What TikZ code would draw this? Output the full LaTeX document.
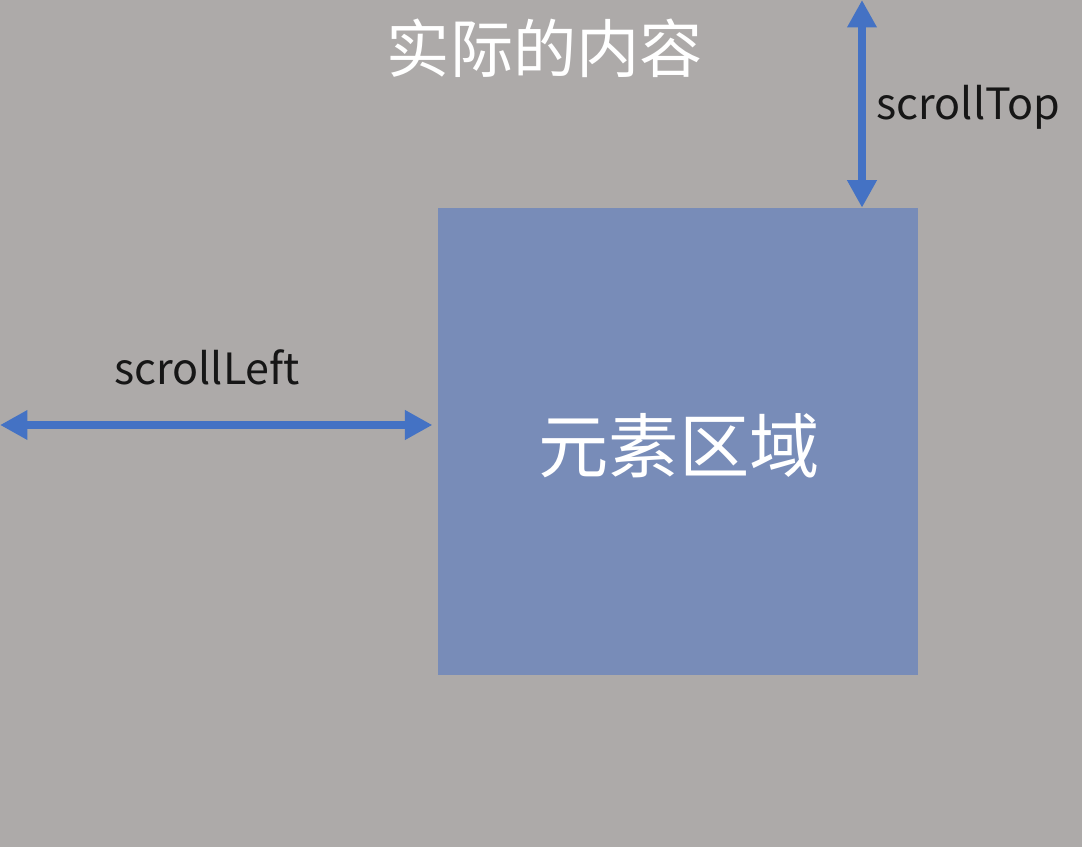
\documentclass[tikz,border=0pt]{standalone}
\usepackage{fontspec}
\setmainfont{Noto Sans CJK SC}
\usetikzlibrary{arrows.meta}

\definecolor{bggray}{HTML}{ADAAA9}
\definecolor{boxblue}{HTML}{788CB8}
\definecolor{arrowblue}{HTML}{4472C4}
\definecolor{labelblack}{HTML}{161616}

\begin{document}
\begin{tikzpicture}[x=0.02cm, y=-0.02cm,
    >={Triangle[length=0.55cm, width=0.56cm]},
    scrollarrow/.style={<->, arrowblue, line width=0.17cm},
    scrolllabel/.style={labelblack, font=\fontsize{24.5}{28}\selectfont, inner sep=0pt},
    bigtext/.style={white, font=\fontsize{#1}{#1}\selectfont, inner sep=0pt}]

  % Background
  \fill[bggray] (0,0) rectangle (1082,847);
  \useasboundingbox (0,0) rectangle (1082,847);

  % Title
  \node[bigtext=36] (content) at (545,48) {实际的内容};

  % Element box
  \node[fill=boxblue, minimum width=9.6cm, minimum height=9.34cm, inner sep=0pt]
      (elem) at (678,441.5) {};
  \node[bigtext=40] (elemText) at (679,446) {元素区域};

  % scrollTop
  \coordinate (topEdge) at (862,0);
  \draw[scrollarrow] (topEdge) -- (topEdge |- elem.north);
  \node[scrolllabel, anchor=base west] (topLabel) at (876,120) {scrollTop};

  % scrollLeft
  \coordinate (leftEdge) at (0,425);
  \draw[scrollarrow, shorten >=3] (leftEdge) -- (leftEdge -| elem.west);
  \node[scrolllabel, anchor=base] (leftLabel) at (207,385) {scrollLeft};

\end{tikzpicture}
\end{document}
